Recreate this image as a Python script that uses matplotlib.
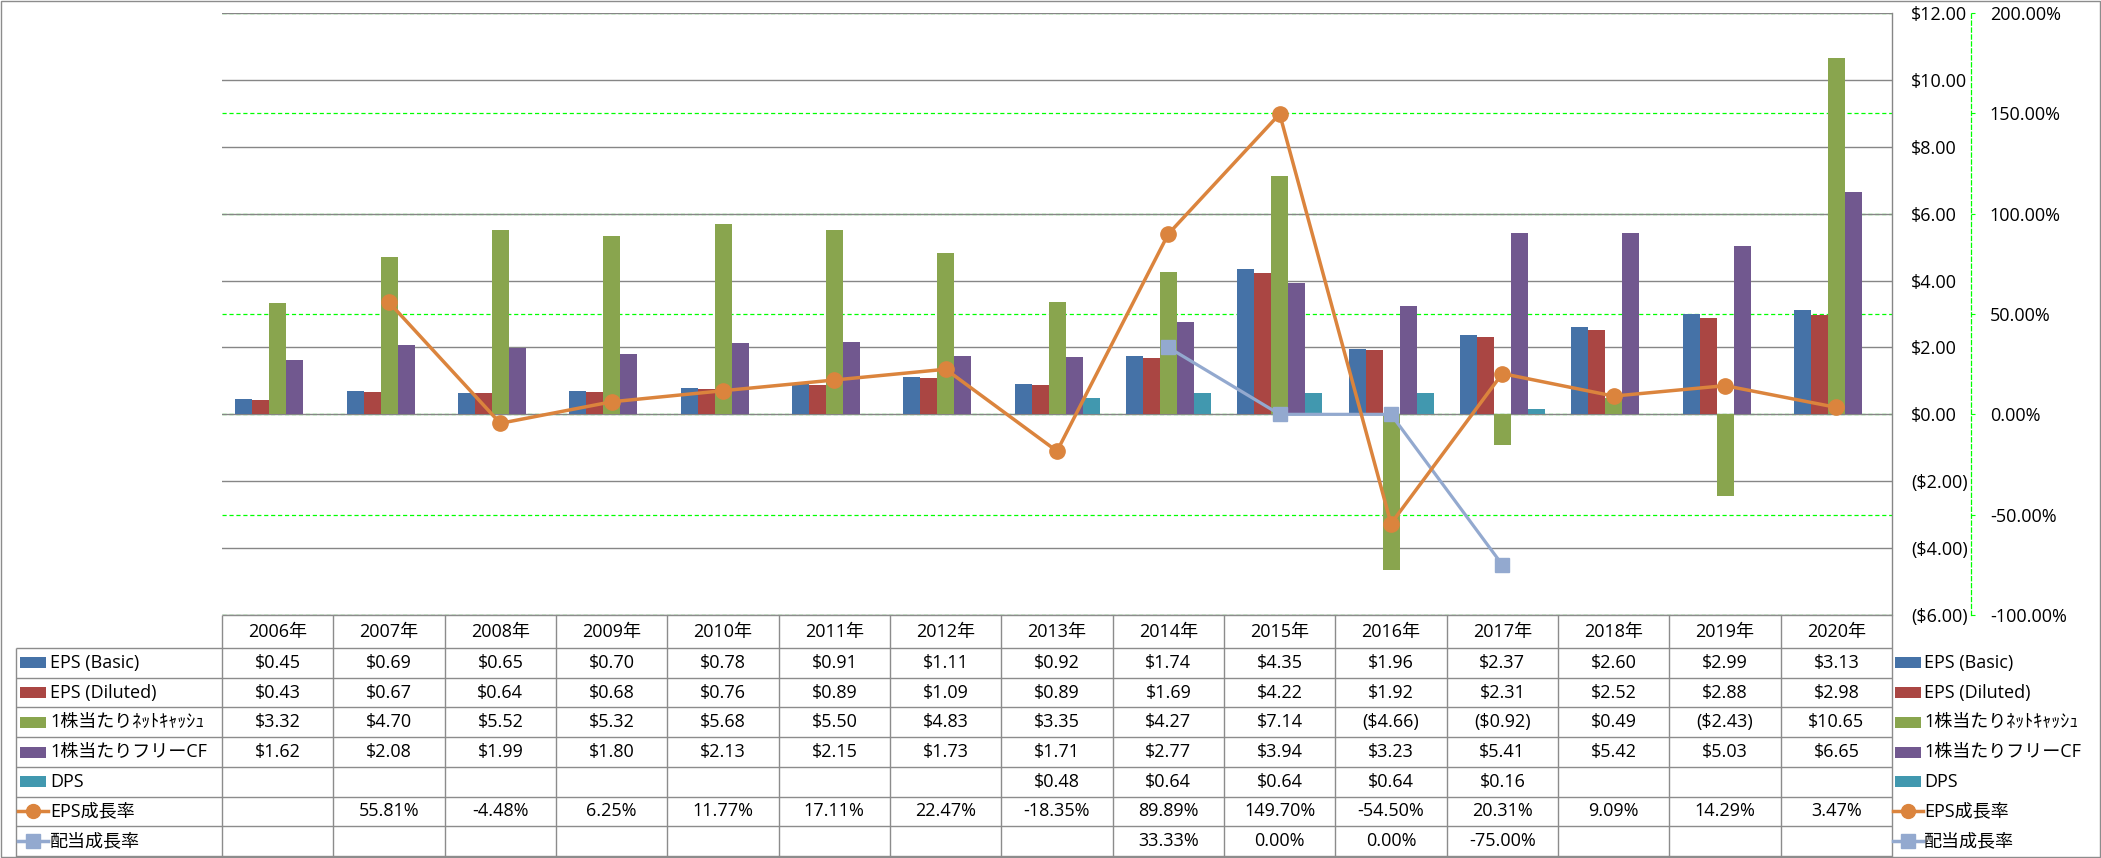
import numpy as np
import matplotlib
matplotlib.use("Agg")
import matplotlib.pyplot as plt
from matplotlib.patches import Rectangle
from matplotlib.lines import Line2D

plt.rcParams['font.family'] = ['Open Sans', 'Noto Sans CJK JP', 'DejaVu Sans']
plt.rcParams['lines.scale_dashes'] = False

# ---- data ----
categories = ["2006年", "2007年", "2008年", "2009年", "2010年", "2011年", "2012年", "2013年",
              "2014年", "2015年", "2016年", "2017年", "2018年", "2019年", "2020年"]
nan = np.nan
eps_basic = [0.45, 0.69, 0.65, 0.70, 0.78, 0.91, 1.11, 0.92, 1.74, 4.35, 1.96, 2.37, 2.60, 2.99, 3.13]
eps_diluted = [0.43, 0.67, 0.64, 0.68, 0.76, 0.89, 1.09, 0.89, 1.69, 4.22, 1.92, 2.31, 2.52, 2.88, 2.98]
net_cash_ps = [3.32, 4.70, 5.52, 5.32, 5.68, 5.50, 4.83, 3.35, 4.27, 7.14, -4.66, -0.92, 0.49, -2.43, 10.65]
fcf_ps = [1.62, 2.08, 1.99, 1.80, 2.13, 2.15, 1.73, 1.71, 2.77, 3.94, 3.23, 5.41, 5.42, 5.03, 6.65]
dps = [nan, nan, nan, nan, nan, nan, nan, 0.48, 0.64, 0.64, 0.64, 0.16, nan, nan, nan]
eps_growth = [nan, 55.81, -4.48, 6.25, 11.77, 17.11, 22.47, -18.35, 89.89, 149.70, -54.50, 20.31, 9.09, 14.29, 3.47]
div_growth = [nan, nan, nan, nan, nan, nan, nan, nan, 33.33, 0.00, 0.00, -75.00, nan, nan, nan]

bar_names = ["EPS (Basic)", "EPS (Diluted)", "1株当たりﾈｯﾄｷｬｯｼｭ", "1株当たりフリーCF", "DPS"]
bar_series = [eps_basic, eps_diluted, net_cash_ps, fcf_ps, dps]
bar_colors = ['#4572A7', '#AA4643', '#89A54E', '#71588F', '#4198AF']
line_names = ["EPS成長率", "配当成長率"]
line_series = [eps_growth, div_growth]
line_colors = ['#DB843D', '#93A9CF']
line_markers = ['o', 's']

usd_ticks = np.arange(-6, 13, 2)
pct_ticks = np.arange(-100, 201, 50)

GRID = '#868686'
TBL = '#8c8c8c'
LIME = '#00ff00'
FS = 13


def money(v):
    return f"${v:.2f}" if v >= 0 else f"(${-v:.2f})"


def pct(v):
    return f"{v:.2f}%"


W, H = 2101, 858
fig = plt.figure(figsize=(W / 100, H / 100), dpi=100)

# plot area, pixel box
PL, PT, PR, PB = 222, 13, 1892, 615
pos = [PL / W, 1 - PB / H, (PR - PL) / W, (PB - PT) / H]
n = len(categories)
x = np.arange(n)

# percent axis sits underneath (green dashed grid), $ axis above, lines on top
ax2 = fig.add_axes(pos)
ax = fig.add_axes(pos, sharex=ax2)
ax3 = fig.add_axes(pos, sharex=ax2)
ax2.set_zorder(0)
ax.set_zorder(1)
ax3.set_zorder(2)
ax.patch.set_visible(False)
ax3.patch.set_visible(False)
ax2.set_xlim(-0.5, n - 0.5)

# ---- bars ($ axis) ----
bw = 17 / ((PR - PL) / n)
for k, (vals, c) in enumerate(zip(bar_series, bar_colors)):
    ax.bar(x + (k - 2) * bw, vals, width=bw, color=c, linewidth=0, zorder=3)
ax.set_ylim(-6, 12)
ax.set_yticks(usd_ticks, [money(t) for t in usd_ticks])
for t, lbl in zip(usd_ticks, ax.get_yticklabels()):
    lbl.set_color('red' if t < 0 else 'black')
ax.yaxis.tick_right()
ax.tick_params(axis='y', length=0, pad=13.5, labelsize=FS)
ax.tick_params(axis='x', length=0, labelbottom=False)
ax.set_axisbelow(True)
ax.yaxis.grid(True, color=GRID, linewidth=1.0)
for s in ['left', 'top', 'bottom']:
    ax.spines[s].set_visible(False)
ax.spines['right'].set_color(GRID)
ax.spines['right'].set_linewidth(1.0)

# ---- percent axis ----
ax2.set_ylim(-100, 200)
ax2.set_yticks(pct_ticks, [pct(t) for t in pct_ticks])
for t, lbl in zip(pct_ticks, ax2.get_yticklabels()):
    lbl.set_color('red' if t < 0 else 'black')
ax2.yaxis.tick_right()
ax2.tick_params(axis='y', length=3, width=0.8, color=LIME, pad=10.5, labelsize=FS)
ax2.tick_params(axis='x', length=0, labelbottom=False)
ax2.yaxis.grid(True, color=LIME, linewidth=0.9, linestyle=(0, (3, 2)))
for s in ['left', 'top', 'bottom']:
    ax2.spines[s].set_visible(False)
ax2.spines['right'].set_position(('axes', 1 + 79 / (PR - PL)))
ax2.spines['right'].set_color(LIME)
ax2.spines['right'].set_linestyle((0, (3, 2)))
ax2.spines['right'].set_linewidth(0.9)

# ---- growth lines ----
ax3.set_ylim(-100, 200)
ax3.axis('off')
ax3.plot(x, eps_growth, color=line_colors[0], lw=2.5, marker='o', markersize=11, zorder=5)
ax3.plot(x, div_growth, color=line_colors[1], lw=2.3, marker='s', markersize=10.5, zorder=4)

# ---- data table (pixel coords) ----
tb = fig.add_axes([0, 0, 1, 1])
tb.set_xlim(0, W)
tb.set_ylim(H, 0)
tb.axis('off')
tb.patch.set_visible(False)
tb.set_zorder(3)

colw = (PR - PL) / n
LX = 16
HEAD_B = 648
rowh = (H - 2 - HEAD_B) / 7

tb.hlines(PB, PL, PR, color=TBL, lw=1)
for k in range(8):
    tb.hlines(HEAD_B + k * rowh, LX, PR, color=TBL, lw=1)
for i in range(n + 1):
    tb.vlines(PL + i * colw, PB, H, color=TBL, lw=1)
tb.vlines(LX, HEAD_B, H, color=TBL, lw=1)

for i, c in enumerate(categories):
    tb.text(PL + (i + 0.5) * colw, (PB + HEAD_B) / 2, c, ha='center', va='center', fontsize=FS)


def legend_glyph(x0, yc, k):
    if k < len(bar_series):
        tb.add_patch(Rectangle((x0, yc - 5.5), 26, 11, color=bar_colors[k], lw=0))
    else:
        j = k - len(bar_series)
        tb.add_line(Line2D([x0 - 2, x0 + 28], [yc, yc], color=line_colors[j], lw=2.5))
        tb.plot([x0 + 13], [yc], marker=line_markers[j], color=line_colors[j],
                markersize=10 if j == 0 else 9.5)


rows = bar_series + line_series
names = bar_names + line_names
for k, (name, vals) in enumerate(zip(names, rows)):
    yc = HEAD_B + (k + 0.5) * rowh
    # left legend column
    legend_glyph(20, yc, k)
    tb.text(50, yc, name, ha='left', va='center', fontsize=FS)
    # right legend
    legend_glyph(1895, yc, k)
    tb.text(1924, yc, name, ha='left', va='center', fontsize=FS)
    fmt = money if k < len(bar_series) else pct
    for i, v in enumerate(vals):
        if not np.isnan(v):
            tb.text(PL + (i + 0.5) * colw, yc, fmt(v), ha='center', va='center', fontsize=FS)

# chart border
tb.add_patch(Rectangle((0.5, 0.5), W - 1.5, H - 1.5, fill=False, edgecolor=TBL, lw=1))

fig.savefig("out.png", dpi=100)
